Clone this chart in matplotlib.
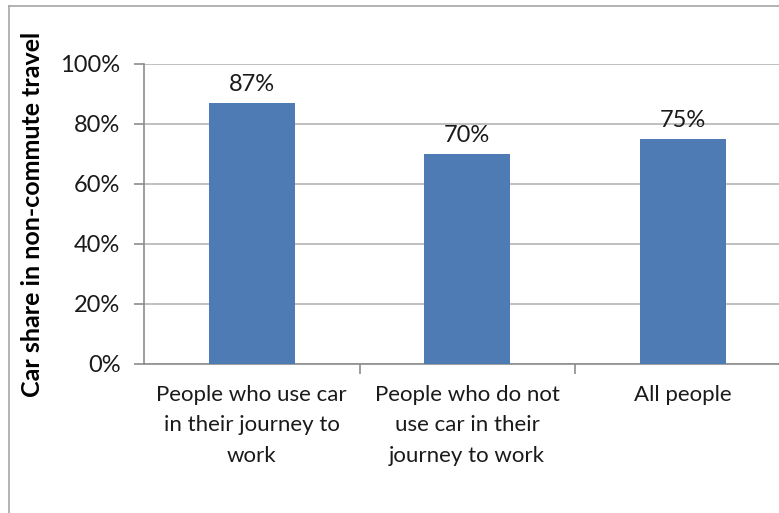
import matplotlib
matplotlib.use("Agg")
import matplotlib.pyplot as plt
from matplotlib.lines import Line2D
from matplotlib.ticker import PercentFormatter

categories = ["People who use car\nin their journey to\nwork",
              "People who do not\nuse car in their\njourney to work",
              "All people"]
car_share = [87, 70, 75]
y_ticks = [0, 20, 40, 60, 80, 100]

plt.rcParams['font.family'] = ['Lato', 'DejaVu Sans']
text_color = "#1a1a1a"
bar_color = "#4F7BB5"
grid_color = "#b5b5b5"

W, H = 779, 513
fig = plt.figure(figsize=(W / 100, H / 100), dpi=100)

# plot area in pixel coordinates
left, right, top, bottom = 144, 790.5, 64, 364
ax = fig.add_axes([left / W, (H - bottom) / H, (right - left) / W, (bottom - top) / H])

x = list(range(len(categories)))
ax.bar(x, car_share, width=0.40, color=bar_color, zorder=3)
for xi, v in zip(x, car_share):
    ax.text(xi, v + 2.6, f"{v}%", ha="center", va="bottom",
            fontsize=17, color=text_color, zorder=4)

ax.set_xlim(-0.5, len(categories) - 0.5)
ax.set_ylim(0, 100)
ax.set_yticks(y_ticks)
ax.yaxis.set_major_formatter(PercentFormatter(decimals=0))
ax.grid(axis="y", color=grid_color, linewidth=1.2, zorder=0)
ax.set_axisbelow(True)

ax.set_xticks(x)
ax.set_xticklabels(categories, fontsize=16, color=text_color, linespacing=1.65)
ax.tick_params(axis="x", length=0, pad=15)
# category boundary ticks
ax.set_xticks([0.5, 1.5], minor=True)
ax.tick_params(axis="x", which="minor", length=7, width=1.2, color="#8c8c8c")
ax.tick_params(axis="y", length=7, width=1.2, color="#8c8c8c",
               labelsize=17, labelcolor=text_color, pad=10)

for side in ("top", "right"):
    ax.spines[side].set_visible(False)
for side in ("left", "bottom"):
    ax.spines[side].set_color("#8c8c8c")
    ax.spines[side].set_linewidth(1.2)

ax.set_ylabel("Car share in non-commute travel", fontsize=18, fontweight="bold",
              color="black", labelpad=12)

# outer chart frame
fig.add_artist(Line2D([9 / W, 9 / W], [0, 1 - 6 / H], transform=fig.transFigure,
                      color="#a6a6a6", linewidth=1.2))
fig.add_artist(Line2D([9 / W, 1], [1 - 6 / H, 1 - 6 / H], transform=fig.transFigure,
                      color="#a6a6a6", linewidth=1.2))

fig.savefig("out.png", dpi=100)
